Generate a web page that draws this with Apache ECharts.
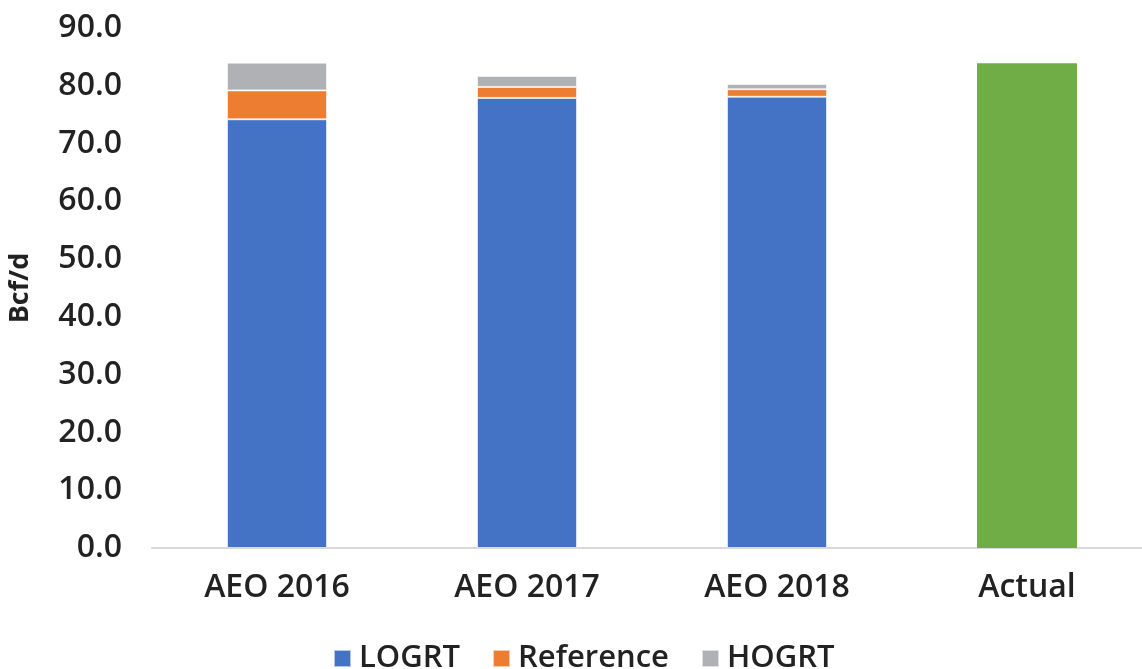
<!DOCTYPE html>
<html>
<head>
<meta charset="utf-8">
<script src="https://cdn.jsdelivr.net/npm/echarts@6/dist/echarts.min.js"></script>
<style>
  html, body { margin: 0; padding: 0; background: #fff; }
  #chart { width: 1142px; height: 669px; }
</style>
</head>
<body>
<div id="chart"></div>
<script>
// data
const categories = ['AEO 2016', 'AEO 2017', 'AEO 2018', 'Actual']
const logrt = [74.2, 77.9, 78.1, null]
const reference = [5.0, 1.9, 1.3, null]
const hogrt = [4.8, 1.9, 0.9, null]
const actual = [null, null, null, 83.9]

const font = '"Open Sans", sans-serif'
const chart = echarts.init(document.getElementById('chart'))

const barStyle = (color) => ({ color: color, borderColor: 'rgba(255,255,255,0.6)', borderWidth: 1 })

chart.setOption({
  animation: false,
  grid: { left: 152, top: 28, width: 1000, height: 520, outerBoundsMode: 'none' },
  legend: {
    data: ['LOGRT', 'Reference', 'HOGRT'],
    top: 638,
    left: 328,
    icon: 'rect',
    itemWidth: 17,
    itemHeight: 17,
    itemGap: 32,
    textStyle: { fontFamily: font, fontSize: 31, color: '#222', fontWeight: 600, padding: [0, 0, 0, 3] }
  },
  xAxis: {
    type: 'category',
    data: categories,
    axisLine: { lineStyle: { color: '#d9d9d9', width: 2 } },
    axisTick: { show: false },
    axisLabel: { fontFamily: font, fontSize: 32, color: '#222', margin: 24, fontWeight: 600 }
  },
  yAxis: {
    type: 'value',
    min: 0,
    max: 90,
    interval: 10,
    name: 'Bcf/d',
    nameLocation: 'middle',
    nameGap: 118,
    nameTextStyle: { fontFamily: font, fontSize: 27, color: '#222', fontWeight: 700 },
    splitLine: { show: false },
    axisLine: { show: false },
    axisTick: { show: false },
    axisLabel: {
      fontFamily: font, fontSize: 32, color: '#222', margin: 30, fontWeight: 600,
      formatter: (v) => v.toFixed(1)
    }
  },
  series: [
    { name: 'LOGRT', type: 'bar', stack: 'a', barWidth: 100, data: logrt, itemStyle: barStyle('#4472C4') },
    { name: 'Reference', type: 'bar', stack: 'a', data: reference, itemStyle: barStyle('#ED7D31') },
    { name: 'HOGRT', type: 'bar', stack: 'a', data: hogrt, itemStyle: barStyle('#B0B1B4') },
    { name: 'Actual', type: 'bar', stack: 'a', data: actual, itemStyle: { color: '#70AD47' } }
  ]
})
</script>
</body>
</html>
